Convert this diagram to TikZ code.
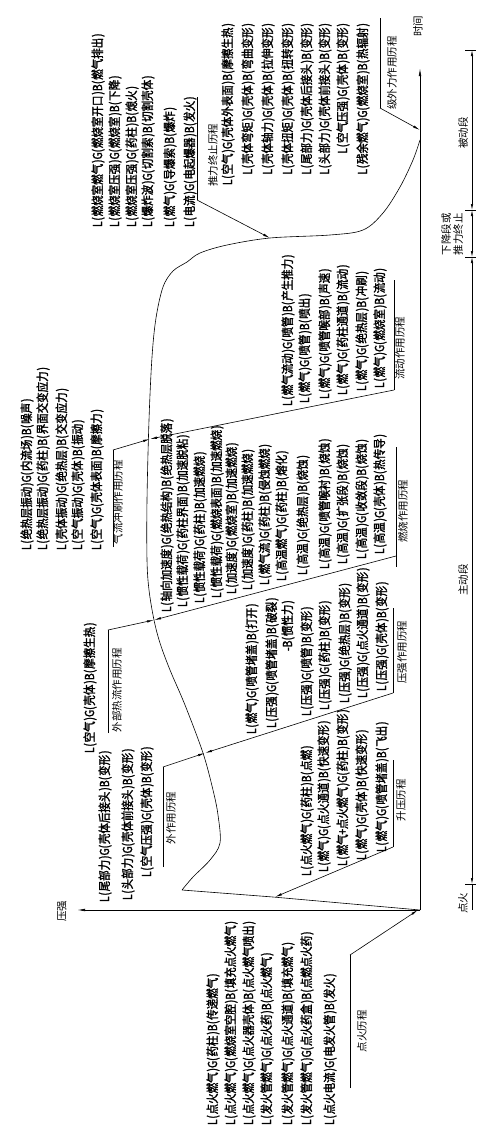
\documentclass[tikz,border=0pt]{standalone}
\usepackage{fontspec}
\newfontfamily\cjk[FakeStretch=0.84,FakeBold=1.8]{Noto Sans CJK SC}
\newfontfamily\cjkl{Noto Sans CJK SC}
\usetikzlibrary{arrows.meta}
\newcommand\hw[1]{\makebox[5.25pt][c]{#1}}
\newcommand\LGB[3]{\hw{L}\hw{(}#1\hw{)}\hw{G}\hw{(}#2\hw{)}\hw{B}\hw{(}#3\hw{)}}
\begin{document}
\begin{tikzpicture}[x=1pt,y=-1pt,
  tx/.style={rotate=90,inner sep=0pt,font=\cjk\fontsize{12.5}{13}\selectfont},
  txb/.style={tx,anchor=west},
  txt/.style={tx,anchor=east},
  lab/.style={rotate=90,inner sep=0pt,font=\cjkl\fontsize{10.5}{12}\selectfont},
  ul/.style={line width=0.6pt},
  ld/.style={line width=0.6pt,-{Latex[length=7pt,width=2.4pt]}},
  ax/.style={line width=0.7pt,-{Latex[length=8pt,width=2.6pt]}},
  dm/.style={line width=0.6pt,{Latex[length=6pt,width=2.4pt]}-{Latex[length=6pt,width=2.4pt]}}]
\useasboundingbox (0,0) rectangle (488,1128);
% axes
\coordinate (O) at (420,910);
\coordinate (Pend) at (77,910);
\coordinate (Tend) at (420,68);
\draw[ax] (O) -- (Pend);
\draw[ax] (O) -- (Tend);
\node[lab] (lp) at (62,911) {压强};
\node[lab] (lt) at (418,26) {时间};
% curve
\coordinate (K) at (182,890);
\draw[ul] (O) -- (273,897) -- (K) plot[smooth,tension=0.55] coordinates {(K) (193,877) (210,860) (220,843) (218,815) (213,790) (203,753) (185,705) (170,670) (160,643) (154,620) (149,590) (147,560) (147,500) (149,420) (152,357) (156,318) (163,287) (173,271) (187,262) (200,253) (227,245) (270,238) (330,235) (363,230) (383,213) (400,187) (413,160) (420,140)};
% curve targets
\coordinate (cI) at (418,910);
\coordinate (cS) at (275,897);
\coordinate (cP) at (205,753);
\coordinate (cB) at (154,620);
\coordinate (cF) at (150,439);
\coordinate (cT) at (270,238);
\coordinate (cW) at (420,130);
% phase bar
\coordinate (q0) at (472,50);
\coordinate (q1) at (472,210);
\coordinate (q2) at (472,257);
\coordinate (q3) at (472,884);
\coordinate (q4) at (472,910);
\foreach \c in {q0,q1,q2,q3} \draw[ul] ([xshift=-7pt]\c) -- ([xshift=4pt]\c);
\draw[dm] (q0) -- (q1);
\draw[dm] (q1) -- (q2);
\draw[dm] (q2) -- (q3);
\draw[ul] (q3) -- (q4);
\node[lab] (ph1) at (463,133) {被动段};
\node[lab,align=center] (ph2) at (452,234) {下降段或\\推力终止};
\node[lab] (ph3) at (463,580) {主动段};
\node[lab] (ph4) at (463,903) {点火};
% ---- 点火历程
\draw[ul] (350,1088) -- (350,955) coordinate (uI);
\draw[ld] (uI) -- (cI);
\node[lab] (lI) at (362,1031) {点火历程};
\node[txb] (i1) at (213,1125) {\LGB{点火燃气}{药柱}{传递燃气}};
\node[txb] (i2) at (231,1125) {\LGB{点火燃气}{燃烧室空腔}{填充点火燃气}};
\node[txb] (i3) at (249,1125) {\LGB{点火燃气}{点火器壳体}{点火燃气喷出}};
\node[txb] (i4) at (267,1125) {\LGB{发火管燃气}{点火药}{点火燃气}};
\node[txb] (i5) at (288,1125) {\LGB{发火管燃气}{点火通道}{填充燃气}};
\node[txb] (i6) at (307,1125) {\LGB{发火管燃气}{点火药盒}{点燃点火药}};
\node[txb] (i7) at (330,1125) {\LGB{点火电流}{电发火管}{发火}};
% ---- 升压历程
\draw[ul] (393,760) -- (393,847) coordinate (uS);
\draw[ld] (uS) -- (cS);
\node[lab] (lS) at (401,800) {升压历程};
\node[txb] (s1) at (307,876) {\LGB{点火燃气}{药柱}{点燃}};
\node[txb] (s2) at (324,872) {\LGB{燃气}{点火通道}{快速变形}};
\node[txb] (s3) at (343,866) {\LGB{燃气\hw{+}点火燃气}{药柱}{变形}};
\node[txb] (s4) at (362,860) {\LGB{燃气}{壳体}{快速变形}};
\node[txb] (s5) at (382,852) {\LGB{燃气}{喷管堵盖}{飞出}};
% ---- 外作用历程
\draw[ul] (163,867) -- (163,767) coordinate (uE);
\draw[ld] (uE) -- (cP);
\node[lab] (lE) at (171,818) {外作用历程};
\node[txb] (e1) at (105,902) {\LGB{尾部力}{壳体后接头}{变形}};
\node[txb] (e2) at (128,900) {\LGB{头部力}{壳体前接头}{变形}};
\node[txb] (e3) at (147,877) {\LGB{空气压强}{壳体}{变形}};
% ---- 压强作用历程
\draw[ul] (393,608) -- (393,693) coordinate (uP);
\draw[ld] (uP) -- (cP);
\node[lab] (lP) at (402,652) {压强作用历程};
\node[txb] (q1) at (252,734) {\LGB{燃气}{喷管堵盖}{打开}};
\node[txb] (q2) at (272,728) {\LGB{压强}{喷管堵盖}{破裂}};
\node[txb] (q3) at (288,652) {\hw{-}\hw{B}\hw{(}惯性力\hw{)}};
\node[txb] (q4) at (307,716) {\LGB{压强}{喷管}{变形}};
\node[txb] (q5) at (325,710) {\LGB{压强}{药柱}{变形}};
\node[txb] (q6) at (345,703) {\LGB{压强}{绝热层}{变形}};
\node[txb] (q7) at (363,698) {\LGB{压强}{点火通道}{变形}};
\node[txb] (q8) at (382,691) {\LGB{压强}{壳体}{变形}};
% ---- 外部热流作用历程
\draw[ul] (108,733) -- (108,630) coordinate (uH);
\draw[ld] (uH) -- (cB);
\node[lab] (lH) at (117,690) {外部热流作用历程};
\node[txb] (h1) at (90,753) {\LGB{空气}{壳体}{摩擦生热}};
% ---- 燃烧作用历程
\draw[ul] (396,447) -- (396,567);
\coordinate (uB) at (396,556);
\draw[ld] (uB) -- (cB);
\node[lab] (lB) at (403,511) {燃烧作用历程};
\node[txb] (b1) at (167,612) {\LGB{轴向加速度}{绝热结构}{绝热层脱落}};
\node[txb] (b2) at (183,607) {\LGB{惯性载荷}{药柱界面}{加速脱粘}};
\node[txb] (b3) at (200,603) {\LGB{惯性载荷}{药柱}{加速燃烧}};
\node[txb] (b4) at (217,598) {\LGB{惯性载荷}{燃烧表面}{加速燃烧}};
\node[txb] (b5) at (232,594) {\LGB{加速度}{燃烧室}{加速燃烧}};
\node[txb] (b6) at (248,590) {\LGB{加速度}{药柱}{加速燃烧}};
\node[txb] (b7) at (265,585) {\LGB{燃气流}{药柱}{侵蚀燃烧}};
\node[txb] (b8) at (282,581) {\LGB{高温燃气}{药柱}{熔化}};
\node[txb] (b9) at (303,575) {\LGB{高温}{绝热层}{烧蚀}};
\node[txb] (b10) at (325,569) {\LGB{高温}{喷管喉衬}{烧蚀}};
\node[txb] (b11) at (343,564) {\LGB{高温}{扩张段}{烧蚀}};
\node[txb] (b12) at (362,559) {\LGB{高温}{收敛段}{烧蚀}};
\node[txb] (b13) at (380,554) {\LGB{高温}{壳体}{热传导}};
% ---- 气流冲刷作用历程
\draw[ul] (113,547) -- (113,450) coordinate (uC);
\draw[ld] (uC) -- (cF);
\node[lab] (lC) at (118,502) {气流冲刷作用历程};
\node[txb] (c1) at (27,550) {\LGB{绝热层振动}{内流场}{噪声}};
\node[txb] (c2) at (43,550) {\LGB{绝热层振动}{药柱}{界面交变应力}};
\node[txb] (c3) at (62,550) {\LGB{壳体振动}{绝热层}{交变应力}};
\node[txb] (c4) at (78,550) {\LGB{空气振动}{壳体}{振动}};
\node[txb] (c5) at (97,550) {\LGB{空气}{壳体表面}{摩擦力}};
% ---- 流动作用历程
\draw[ul] (394,280) -- (394,390) coordinate (uF);
\draw[ld] (uF) -- (cF);
\node[lab] (lF) at (400,348) {流动作用历程};
\node[txb] (f1) at (288,406) {\LGB{燃气流动}{喷管}{产生推力}};
\node[txb] (f2) at (305,403) {\LGB{燃气}{喷管}{喷出}};
\node[txb] (f3) at (325,399) {\LGB{燃气}{喷管喉部}{声速}};
\node[txb] (f4) at (343,395) {\LGB{燃气}{药柱通道}{流动}};
\node[txb] (f5) at (362,391) {\LGB{燃气}{绝热层}{冲刷}};
\node[txb] (f6) at (380,388) {\LGB{燃气}{燃烧室}{流动}};
% ---- 推力终止历程
\draw[ul] (197,97) -- (197,200) coordinate (uT);
\draw[ld] (uT) -- (cT);
\node[lab] (lT) at (213,155) {推力终止历程};
\node[txb] (t1) at (98,227) {\LGB{燃烧室燃气}{燃烧室开口}{燃气排出}};
\node[txb] (t2) at (115,227) {\LGB{燃烧室压强}{燃烧室}{下降}};
\node[txb] (t3) at (132,227) {\LGB{燃烧室压强}{药柱}{熄火}};
\node[txb] (t4) at (148,227) {\LGB{爆炸波}{切割索}{切割壳体}};
\node[txb] (t5) at (170,227) {\LGB{燃气}{导爆索}{爆炸}};
\node[txb] (t6) at (190,227) {\LGB{电流}{电起爆器}{发火}};
% ---- 级外力作用历程 (被动段)
\draw[ul] (380,18) -- (380,108) coordinate (uW);
\draw[ld] (uW) -- (cW);
\node[lab] (lW) at (392,73) {级外力作用历程};
\node[txt] (p1) at (228,22) {\LGB{空气}{壳体外表面}{摩擦生热}};
\node[txt] (p2) at (248,22) {\LGB{壳体弯矩}{壳体}{弯曲变形}};
\node[txt] (p3) at (268,22) {\LGB{壳体轴力}{壳体}{拉伸变形}};
\node[txt] (p4) at (288,22) {\LGB{壳体扭矩}{壳体}{扭转变形}};
\node[txt] (p5) at (307,22) {\LGB{尾部力}{壳体后接头}{变形}};
\node[txt] (p6) at (325,22) {\LGB{头部力}{壳体前接头}{变形}};
\node[txt] (p7) at (343,22) {\LGB{空气压强}{壳体}{变形}};
\node[txt] (p8) at (363,22) {\LGB{残余燃气}{燃烧室}{热辐射}};
\end{tikzpicture}
\end{document}
